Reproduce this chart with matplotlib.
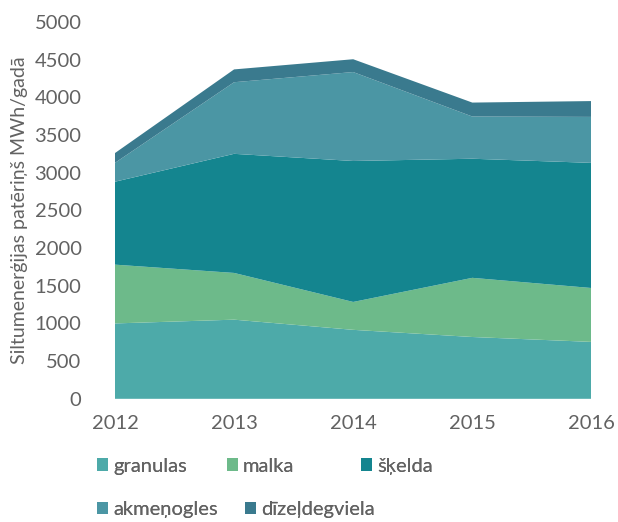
import matplotlib
matplotlib.use("Agg")
import matplotlib.pyplot as plt
from matplotlib.patches import Patch

years = [2012, 2013, 2014, 2015, 2016]
granulas = [1000, 1050, 915, 820, 755]
malka = [780, 620, 370, 785, 715]
skelda = [1100, 1580, 1870, 1580, 1660]
akmenogles = [250, 950, 1180, 560, 610]
dizeldegviela = [130, 170, 170, 185, 210]

series_names = ["granulas", "malka", "šķelda", "akmeņogles", "dīzeļdegviela"]
colors = ["#4DAAA9", "#6DBA8A", "#14858F", "#4B96A4", "#3A7A8E"]
yticks = [0, 500, 1000, 1500, 2000, 2500, 3000, 3500, 4000, 4500, 5000]

plt.rcParams['font.family'] = ['Lato', 'DejaVu Sans']
text_color = "#626262"

fig = plt.figure(figsize=(6.18, 5.22), dpi=100)
ax = fig.add_axes([0.186, 0.236, 0.771, 0.722])

ax.stackplot(years, granulas, malka, skelda, akmenogles, dizeldegviela,
             colors=colors, labels=series_names, linewidth=0)

ax.set_xlim(years[0], years[-1])
ax.set_ylim(0, 5000)
ax.set_yticks(yticks)
ax.set_yticklabels([str(v) for v in yticks])
ax.set_xticks(years)
ax.set_xticklabels([str(y) for y in years])
for s in ax.spines.values():
    s.set_visible(False)
ax.tick_params(axis='both', length=0, labelsize=14.5, colors=text_color)
ax.tick_params(axis='y', pad=24)
ax.tick_params(axis='x', pad=12)

ax.set_ylabel("Siltumenerģijas patēriņš MWh/gadā", fontsize=14,
              color=text_color)
ax.yaxis.set_label_coords(-0.183, 0.5)

handles = [Patch(facecolor=c, edgecolor='none') for c in colors]
positions = [(0.157, 0.107), (0.367, 0.107), (0.584, 0.107),
             (0.157, 0.023), (0.397, 0.023)]
for h, name, (px, py) in zip(handles, series_names, positions):
    leg = fig.legend([h], [name], loc='center left', bbox_to_anchor=(px, py),
                     frameon=False, handlelength=0.55, handleheight=0.55,
                     handletextpad=0.25, borderpad=0, borderaxespad=0,
                     labelcolor=text_color, prop={'size': 14.5})
    fig.add_artist(leg)

fig.savefig("out.png", dpi=100)
